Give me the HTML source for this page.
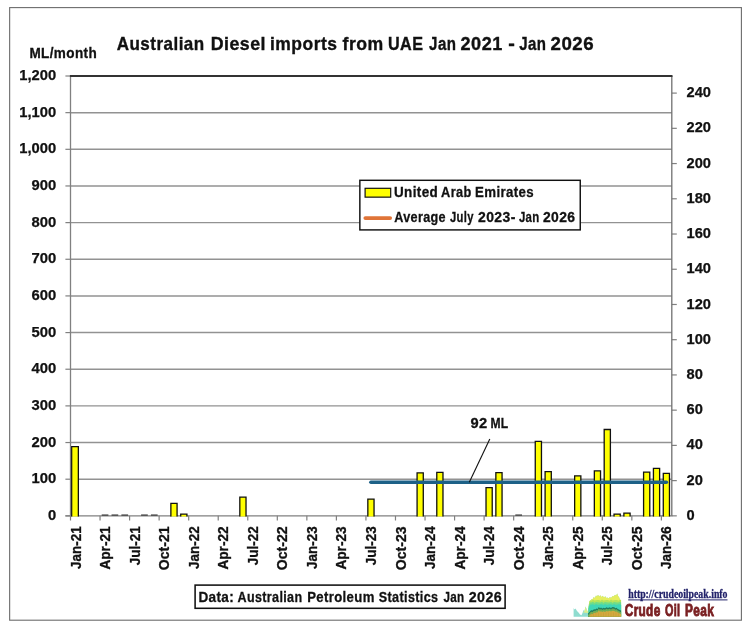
<!DOCTYPE html>
<html><head><meta charset="utf-8"><title>Australian Diesel imports from UAE</title>
<style>html,body{margin:0;padding:0;background:#fff}svg{display:block}text{font-family:"Liberation Sans",Arial,sans-serif;font-weight:bold;fill:#111}</style></head><body>
<svg width="747" height="633" viewBox="0 0 747 633">
<rect width="747" height="633" fill="#fff"/>
<rect x="9.65" y="7.6" width="731.75" height="612.6" fill="#fff" stroke="#6c6c6c" stroke-width="1.1"/>
<line x1="70.5" x2="671.8" y1="479.20" y2="479.20" stroke="#929292" stroke-width="1.45"/>
<line x1="70.5" x2="671.8" y1="442.54" y2="442.54" stroke="#929292" stroke-width="1.45"/>
<line x1="70.5" x2="671.8" y1="405.89" y2="405.89" stroke="#929292" stroke-width="1.45"/>
<line x1="70.5" x2="671.8" y1="369.23" y2="369.23" stroke="#929292" stroke-width="1.45"/>
<line x1="70.5" x2="671.8" y1="332.58" y2="332.58" stroke="#929292" stroke-width="1.45"/>
<line x1="70.5" x2="671.8" y1="295.92" y2="295.92" stroke="#929292" stroke-width="1.45"/>
<line x1="70.5" x2="671.8" y1="259.27" y2="259.27" stroke="#929292" stroke-width="1.45"/>
<line x1="70.5" x2="671.8" y1="222.62" y2="222.62" stroke="#929292" stroke-width="1.45"/>
<line x1="70.5" x2="671.8" y1="185.96" y2="185.96" stroke="#929292" stroke-width="1.45"/>
<line x1="70.5" x2="671.8" y1="149.31" y2="149.31" stroke="#929292" stroke-width="1.45"/>
<line x1="70.5" x2="671.8" y1="112.65" y2="112.65" stroke="#929292" stroke-width="1.45"/>
<line x1="65.4" x2="70.5" y1="515.85" y2="515.85" stroke="#808080" stroke-width="1.2"/>
<text x="56.2" y="519.85" font-size="14" stroke="#111" stroke-width="0.25" text-anchor="end" textLength="8.2" lengthAdjust="spacingAndGlyphs">0</text>
<line x1="65.4" x2="70.5" y1="479.20" y2="479.20" stroke="#808080" stroke-width="1.2"/>
<text x="56.2" y="483.20" font-size="14" stroke="#111" stroke-width="0.25" text-anchor="end" textLength="24.7" lengthAdjust="spacingAndGlyphs">100</text>
<line x1="65.4" x2="70.5" y1="442.54" y2="442.54" stroke="#808080" stroke-width="1.2"/>
<text x="56.2" y="446.54" font-size="14" stroke="#111" stroke-width="0.25" text-anchor="end" textLength="24.7" lengthAdjust="spacingAndGlyphs">200</text>
<line x1="65.4" x2="70.5" y1="405.89" y2="405.89" stroke="#808080" stroke-width="1.2"/>
<text x="56.2" y="409.89" font-size="14" stroke="#111" stroke-width="0.25" text-anchor="end" textLength="24.7" lengthAdjust="spacingAndGlyphs">300</text>
<line x1="65.4" x2="70.5" y1="369.23" y2="369.23" stroke="#808080" stroke-width="1.2"/>
<text x="56.2" y="373.23" font-size="14" stroke="#111" stroke-width="0.25" text-anchor="end" textLength="24.7" lengthAdjust="spacingAndGlyphs">400</text>
<line x1="65.4" x2="70.5" y1="332.58" y2="332.58" stroke="#808080" stroke-width="1.2"/>
<text x="56.2" y="336.58" font-size="14" stroke="#111" stroke-width="0.25" text-anchor="end" textLength="24.7" lengthAdjust="spacingAndGlyphs">500</text>
<line x1="65.4" x2="70.5" y1="295.92" y2="295.92" stroke="#808080" stroke-width="1.2"/>
<text x="56.2" y="299.92" font-size="14" stroke="#111" stroke-width="0.25" text-anchor="end" textLength="24.7" lengthAdjust="spacingAndGlyphs">600</text>
<line x1="65.4" x2="70.5" y1="259.27" y2="259.27" stroke="#808080" stroke-width="1.2"/>
<text x="56.2" y="263.27" font-size="14" stroke="#111" stroke-width="0.25" text-anchor="end" textLength="24.7" lengthAdjust="spacingAndGlyphs">700</text>
<line x1="65.4" x2="70.5" y1="222.62" y2="222.62" stroke="#808080" stroke-width="1.2"/>
<text x="56.2" y="226.62" font-size="14" stroke="#111" stroke-width="0.25" text-anchor="end" textLength="24.7" lengthAdjust="spacingAndGlyphs">800</text>
<line x1="65.4" x2="70.5" y1="185.96" y2="185.96" stroke="#808080" stroke-width="1.2"/>
<text x="56.2" y="189.96" font-size="14" stroke="#111" stroke-width="0.25" text-anchor="end" textLength="24.7" lengthAdjust="spacingAndGlyphs">900</text>
<line x1="65.4" x2="70.5" y1="149.31" y2="149.31" stroke="#808080" stroke-width="1.2"/>
<text x="56.2" y="153.31" font-size="14" stroke="#111" stroke-width="0.25" text-anchor="end" textLength="36.9" lengthAdjust="spacingAndGlyphs">1,000</text>
<line x1="65.4" x2="70.5" y1="112.65" y2="112.65" stroke="#808080" stroke-width="1.2"/>
<text x="56.2" y="116.65" font-size="14" stroke="#111" stroke-width="0.25" text-anchor="end" textLength="36.9" lengthAdjust="spacingAndGlyphs">1,100</text>
<line x1="65.4" x2="70.5" y1="76.00" y2="76.00" stroke="#808080" stroke-width="1.2"/>
<text x="56.2" y="80.00" font-size="14" stroke="#111" stroke-width="0.25" text-anchor="end" textLength="36.9" lengthAdjust="spacingAndGlyphs">1,200</text>
<line x1="671.8" x2="676.8" y1="515.85" y2="515.85" stroke="#808080" stroke-width="1.2"/>
<text x="686.5" y="519.95" font-size="14" stroke="#111" stroke-width="0.25" textLength="8.15" lengthAdjust="spacingAndGlyphs">0</text>
<line x1="671.8" x2="676.8" y1="480.62" y2="480.62" stroke="#808080" stroke-width="1.2"/>
<text x="686.5" y="484.72" font-size="14" stroke="#111" stroke-width="0.25" textLength="16.3" lengthAdjust="spacingAndGlyphs">20</text>
<line x1="671.8" x2="676.8" y1="445.39" y2="445.39" stroke="#808080" stroke-width="1.2"/>
<text x="686.5" y="449.49" font-size="14" stroke="#111" stroke-width="0.25" textLength="16.3" lengthAdjust="spacingAndGlyphs">40</text>
<line x1="671.8" x2="676.8" y1="410.16" y2="410.16" stroke="#808080" stroke-width="1.2"/>
<text x="686.5" y="414.26" font-size="14" stroke="#111" stroke-width="0.25" textLength="16.3" lengthAdjust="spacingAndGlyphs">60</text>
<line x1="671.8" x2="676.8" y1="374.93" y2="374.93" stroke="#808080" stroke-width="1.2"/>
<text x="686.5" y="379.03" font-size="14" stroke="#111" stroke-width="0.25" textLength="16.3" lengthAdjust="spacingAndGlyphs">80</text>
<line x1="671.8" x2="676.8" y1="339.70" y2="339.70" stroke="#808080" stroke-width="1.2"/>
<text x="686.5" y="343.80" font-size="14" stroke="#111" stroke-width="0.25" textLength="24.4" lengthAdjust="spacingAndGlyphs">100</text>
<line x1="671.8" x2="676.8" y1="304.48" y2="304.48" stroke="#808080" stroke-width="1.2"/>
<text x="686.5" y="308.58" font-size="14" stroke="#111" stroke-width="0.25" textLength="24.4" lengthAdjust="spacingAndGlyphs">120</text>
<line x1="671.8" x2="676.8" y1="269.25" y2="269.25" stroke="#808080" stroke-width="1.2"/>
<text x="686.5" y="273.35" font-size="14" stroke="#111" stroke-width="0.25" textLength="24.4" lengthAdjust="spacingAndGlyphs">140</text>
<line x1="671.8" x2="676.8" y1="234.02" y2="234.02" stroke="#808080" stroke-width="1.2"/>
<text x="686.5" y="238.12" font-size="14" stroke="#111" stroke-width="0.25" textLength="24.4" lengthAdjust="spacingAndGlyphs">160</text>
<line x1="671.8" x2="676.8" y1="198.79" y2="198.79" stroke="#808080" stroke-width="1.2"/>
<text x="686.5" y="202.89" font-size="14" stroke="#111" stroke-width="0.25" textLength="24.4" lengthAdjust="spacingAndGlyphs">180</text>
<line x1="671.8" x2="676.8" y1="163.56" y2="163.56" stroke="#808080" stroke-width="1.2"/>
<text x="686.5" y="167.66" font-size="14" stroke="#111" stroke-width="0.25" textLength="24.4" lengthAdjust="spacingAndGlyphs">200</text>
<line x1="671.8" x2="676.8" y1="128.33" y2="128.33" stroke="#808080" stroke-width="1.2"/>
<text x="686.5" y="132.43" font-size="14" stroke="#111" stroke-width="0.25" textLength="24.4" lengthAdjust="spacingAndGlyphs">220</text>
<line x1="671.8" x2="676.8" y1="93.10" y2="93.10" stroke="#808080" stroke-width="1.2"/>
<text x="686.5" y="97.20" font-size="14" stroke="#111" stroke-width="0.25" textLength="24.4" lengthAdjust="spacingAndGlyphs">240</text>
<line x1="65.4" x2="672.4" y1="515.85" y2="515.85" stroke="#808080" stroke-width="1.3"/>
<rect x="71.65" y="446.67" width="6.70" height="69.78" fill="#ffff00"/>
<path d="M71.65,516.45 V446.67 H78.35 V516.45" fill="none" stroke="#111" stroke-width="1.3"/>
<rect x="101.69" y="514.50" width="6.70" height="1.1" fill="#262626"/>
<rect x="111.54" y="514.50" width="6.70" height="1.1" fill="#262626"/>
<rect x="121.39" y="514.50" width="6.70" height="1.1" fill="#262626"/>
<rect x="141.09" y="514.50" width="6.70" height="1.1" fill="#262626"/>
<rect x="150.93" y="514.50" width="6.70" height="1.1" fill="#262626"/>
<rect x="170.88" y="503.45" width="6.20" height="13.00" fill="#ffff00"/>
<path d="M170.88,516.45 V503.45 H177.08 V516.45" fill="none" stroke="#111" stroke-width="1.3"/>
<rect x="180.73" y="514.15" width="6.20" height="2.30" fill="#ffff00"/>
<path d="M180.73,516.45 V514.15 H186.93 V516.45" fill="none" stroke="#111" stroke-width="1.3"/>
<rect x="239.82" y="497.15" width="6.20" height="19.30" fill="#ffff00"/>
<path d="M239.82,516.45 V497.15 H246.02 V516.45" fill="none" stroke="#111" stroke-width="1.3"/>
<rect x="367.84" y="499.05" width="6.20" height="17.40" fill="#ffff00"/>
<path d="M367.84,516.45 V499.05 H374.04 V516.45" fill="none" stroke="#111" stroke-width="1.3"/>
<rect x="417.08" y="472.88" width="6.20" height="43.57" fill="#ffff00"/>
<path d="M417.08,516.45 V472.88 H423.28 V516.45" fill="none" stroke="#111" stroke-width="1.3"/>
<rect x="436.78" y="472.41" width="6.20" height="44.04" fill="#ffff00"/>
<path d="M436.78,516.45 V472.41 H442.98 V516.45" fill="none" stroke="#111" stroke-width="1.3"/>
<rect x="486.02" y="487.54" width="6.20" height="28.91" fill="#ffff00"/>
<path d="M486.02,516.45 V487.54 H492.22 V516.45" fill="none" stroke="#111" stroke-width="1.3"/>
<rect x="495.86" y="472.59" width="6.20" height="43.86" fill="#ffff00"/>
<path d="M495.86,516.45 V472.59 H502.06 V516.45" fill="none" stroke="#111" stroke-width="1.3"/>
<rect x="515.31" y="514.50" width="6.70" height="1.1" fill="#262626"/>
<rect x="535.26" y="441.43" width="6.20" height="75.02" fill="#ffff00"/>
<path d="M535.26,516.45 V441.43 H541.46 V516.45" fill="none" stroke="#111" stroke-width="1.3"/>
<rect x="545.10" y="471.60" width="6.20" height="44.85" fill="#ffff00"/>
<path d="M545.10,516.45 V471.60 H551.30 V516.45" fill="none" stroke="#111" stroke-width="1.3"/>
<rect x="574.65" y="475.89" width="6.20" height="40.56" fill="#ffff00"/>
<path d="M574.65,516.45 V475.89 H580.85 V516.45" fill="none" stroke="#111" stroke-width="1.3"/>
<rect x="594.34" y="470.94" width="6.20" height="45.51" fill="#ffff00"/>
<path d="M594.34,516.45 V470.94 H600.54 V516.45" fill="none" stroke="#111" stroke-width="1.3"/>
<rect x="604.19" y="429.52" width="6.20" height="86.93" fill="#ffff00"/>
<path d="M604.19,516.45 V429.52 H610.39 V516.45" fill="none" stroke="#111" stroke-width="1.3"/>
<rect x="614.04" y="514.08" width="6.20" height="2.37" fill="#ffff00"/>
<path d="M614.04,516.45 V514.08 H620.24 V516.45" fill="none" stroke="#111" stroke-width="1.3"/>
<rect x="623.89" y="513.20" width="6.20" height="3.25" fill="#ffff00"/>
<path d="M623.89,516.45 V513.20 H630.09 V516.45" fill="none" stroke="#111" stroke-width="1.3"/>
<rect x="643.58" y="472.15" width="6.20" height="44.30" fill="#ffff00"/>
<path d="M643.58,516.45 V472.15 H649.78 V516.45" fill="none" stroke="#111" stroke-width="1.3"/>
<rect x="653.43" y="468.37" width="6.20" height="48.08" fill="#ffff00"/>
<path d="M653.43,516.45 V468.37 H659.63 V516.45" fill="none" stroke="#111" stroke-width="1.3"/>
<rect x="663.28" y="473.47" width="6.20" height="42.98" fill="#ffff00"/>
<path d="M663.28,516.45 V473.47 H669.48 V516.45" fill="none" stroke="#111" stroke-width="1.3"/>
<line x1="70.5" x2="70.5" y1="76" y2="515.85" stroke="#808080" stroke-width="1.3"/>
<line x1="671.8" x2="671.8" y1="76" y2="515.85" stroke="#707070" stroke-width="1.3"/>
<line x1="69.9" x2="672.5" y1="76" y2="76" stroke="#333" stroke-width="1.9"/>
<line x1="70.50" x2="70.50" y1="515.85" y2="520.5" stroke="#808080" stroke-width="1.2"/>
<text transform="translate(80.57,526.4) scale(1.06,1) rotate(-90)" font-size="13.75" text-anchor="end" textLength="42.5" lengthAdjust="spacingAndGlyphs" stroke="#111" stroke-width="0.3">Jan-21</text>
<line x1="100.04" x2="100.04" y1="515.85" y2="520.5" stroke="#808080" stroke-width="1.2"/>
<text transform="translate(110.12,526.4) scale(1.06,1) rotate(-90)" font-size="13.75" text-anchor="end" textLength="43.2" lengthAdjust="spacingAndGlyphs" stroke="#111" stroke-width="0.3">Apr-21</text>
<line x1="129.59" x2="129.59" y1="515.85" y2="520.5" stroke="#808080" stroke-width="1.2"/>
<text transform="translate(139.66,526.4) scale(1.06,1) rotate(-90)" font-size="13.75" text-anchor="end" textLength="38.8" lengthAdjust="spacingAndGlyphs" stroke="#111" stroke-width="0.3">Jul-21</text>
<line x1="159.13" x2="159.13" y1="515.85" y2="520.5" stroke="#808080" stroke-width="1.2"/>
<text transform="translate(169.21,526.4) scale(1.06,1) rotate(-90)" font-size="13.75" text-anchor="end" textLength="43.9" lengthAdjust="spacingAndGlyphs" stroke="#111" stroke-width="0.3">Oct-21</text>
<line x1="188.68" x2="188.68" y1="515.85" y2="520.5" stroke="#808080" stroke-width="1.2"/>
<text transform="translate(198.75,526.4) scale(1.06,1) rotate(-90)" font-size="13.75" text-anchor="end" textLength="42.5" lengthAdjust="spacingAndGlyphs" stroke="#111" stroke-width="0.3">Jan-22</text>
<line x1="218.22" x2="218.22" y1="515.85" y2="520.5" stroke="#808080" stroke-width="1.2"/>
<text transform="translate(228.29,526.4) scale(1.06,1) rotate(-90)" font-size="13.75" text-anchor="end" textLength="43.2" lengthAdjust="spacingAndGlyphs" stroke="#111" stroke-width="0.3">Apr-22</text>
<line x1="247.76" x2="247.76" y1="515.85" y2="520.5" stroke="#808080" stroke-width="1.2"/>
<text transform="translate(257.84,526.4) scale(1.06,1) rotate(-90)" font-size="13.75" text-anchor="end" textLength="38.8" lengthAdjust="spacingAndGlyphs" stroke="#111" stroke-width="0.3">Jul-22</text>
<line x1="277.31" x2="277.31" y1="515.85" y2="520.5" stroke="#808080" stroke-width="1.2"/>
<text transform="translate(287.38,526.4) scale(1.06,1) rotate(-90)" font-size="13.75" text-anchor="end" textLength="43.9" lengthAdjust="spacingAndGlyphs" stroke="#111" stroke-width="0.3">Oct-22</text>
<line x1="306.85" x2="306.85" y1="515.85" y2="520.5" stroke="#808080" stroke-width="1.2"/>
<text transform="translate(316.93,526.4) scale(1.06,1) rotate(-90)" font-size="13.75" text-anchor="end" textLength="42.5" lengthAdjust="spacingAndGlyphs" stroke="#111" stroke-width="0.3">Jan-23</text>
<line x1="336.40" x2="336.40" y1="515.85" y2="520.5" stroke="#808080" stroke-width="1.2"/>
<text transform="translate(346.47,526.4) scale(1.06,1) rotate(-90)" font-size="13.75" text-anchor="end" textLength="43.2" lengthAdjust="spacingAndGlyphs" stroke="#111" stroke-width="0.3">Apr-23</text>
<line x1="365.94" x2="365.94" y1="515.85" y2="520.5" stroke="#808080" stroke-width="1.2"/>
<text transform="translate(376.01,526.4) scale(1.06,1) rotate(-90)" font-size="13.75" text-anchor="end" textLength="38.8" lengthAdjust="spacingAndGlyphs" stroke="#111" stroke-width="0.3">Jul-23</text>
<line x1="395.48" x2="395.48" y1="515.85" y2="520.5" stroke="#808080" stroke-width="1.2"/>
<text transform="translate(405.56,526.4) scale(1.06,1) rotate(-90)" font-size="13.75" text-anchor="end" textLength="43.9" lengthAdjust="spacingAndGlyphs" stroke="#111" stroke-width="0.3">Oct-23</text>
<line x1="425.03" x2="425.03" y1="515.85" y2="520.5" stroke="#808080" stroke-width="1.2"/>
<text transform="translate(435.10,526.4) scale(1.06,1) rotate(-90)" font-size="13.75" text-anchor="end" textLength="42.5" lengthAdjust="spacingAndGlyphs" stroke="#111" stroke-width="0.3">Jan-24</text>
<line x1="454.57" x2="454.57" y1="515.85" y2="520.5" stroke="#808080" stroke-width="1.2"/>
<text transform="translate(464.65,526.4) scale(1.06,1) rotate(-90)" font-size="13.75" text-anchor="end" textLength="43.2" lengthAdjust="spacingAndGlyphs" stroke="#111" stroke-width="0.3">Apr-24</text>
<line x1="484.12" x2="484.12" y1="515.85" y2="520.5" stroke="#808080" stroke-width="1.2"/>
<text transform="translate(494.19,526.4) scale(1.06,1) rotate(-90)" font-size="13.75" text-anchor="end" textLength="38.8" lengthAdjust="spacingAndGlyphs" stroke="#111" stroke-width="0.3">Jul-24</text>
<line x1="513.66" x2="513.66" y1="515.85" y2="520.5" stroke="#808080" stroke-width="1.2"/>
<text transform="translate(523.73,526.4) scale(1.06,1) rotate(-90)" font-size="13.75" text-anchor="end" textLength="43.9" lengthAdjust="spacingAndGlyphs" stroke="#111" stroke-width="0.3">Oct-24</text>
<line x1="543.20" x2="543.20" y1="515.85" y2="520.5" stroke="#808080" stroke-width="1.2"/>
<text transform="translate(553.28,526.4) scale(1.06,1) rotate(-90)" font-size="13.75" text-anchor="end" textLength="42.5" lengthAdjust="spacingAndGlyphs" stroke="#111" stroke-width="0.3">Jan-25</text>
<line x1="572.75" x2="572.75" y1="515.85" y2="520.5" stroke="#808080" stroke-width="1.2"/>
<text transform="translate(582.82,526.4) scale(1.06,1) rotate(-90)" font-size="13.75" text-anchor="end" textLength="43.2" lengthAdjust="spacingAndGlyphs" stroke="#111" stroke-width="0.3">Apr-25</text>
<line x1="602.29" x2="602.29" y1="515.85" y2="520.5" stroke="#808080" stroke-width="1.2"/>
<text transform="translate(612.37,526.4) scale(1.06,1) rotate(-90)" font-size="13.75" text-anchor="end" textLength="38.8" lengthAdjust="spacingAndGlyphs" stroke="#111" stroke-width="0.3">Jul-25</text>
<line x1="631.84" x2="631.84" y1="515.85" y2="520.5" stroke="#808080" stroke-width="1.2"/>
<text transform="translate(641.91,526.4) scale(1.06,1) rotate(-90)" font-size="13.75" text-anchor="end" textLength="43.9" lengthAdjust="spacingAndGlyphs" stroke="#111" stroke-width="0.3">Oct-25</text>
<line x1="661.38" x2="661.38" y1="515.85" y2="520.5" stroke="#808080" stroke-width="1.2"/>
<text transform="translate(671.45,526.4) scale(1.06,1) rotate(-90)" font-size="13.75" text-anchor="end" textLength="42.5" lengthAdjust="spacingAndGlyphs" stroke="#111" stroke-width="0.3">Jan-26</text>
<line x1="370.90" x2="666.40" y1="482.3" y2="482.3" stroke="#1d6187" stroke-width="3.6" stroke-linecap="round"/>
<line x1="489.8" y1="439.0" x2="469.3" y2="482.2" stroke="#111" stroke-width="1.1"/>
<g font-size="13.8" stroke="#111" stroke-width="0.3" style="fill:#111"  aria-label="92 ML">
<text transform="translate(470.5,428.4) scale(1.0656,1)" letter-spacing="0.39" style="fill:inherit">92</text>
<text transform="translate(490.44,428.4) scale(0.8772,1)" letter-spacing="0.39" style="fill:inherit">ML</text>
</g>
<g font-size="18.0" stroke="#111" stroke-width="0.35" style="fill:#111"  aria-label="Australian Diesel imports from UAE Jan 2021 - Jan 2026">
<text transform="translate(116.76,50.0) scale(0.9456,1)" letter-spacing="0.5" style="fill:inherit">Australian</text>
<text transform="translate(210.71,50.0) scale(0.9874,1)" letter-spacing="0.5" style="fill:inherit">Diesel</text>
<text transform="translate(270.01,50.0) scale(0.9707,1)" letter-spacing="0.5" style="fill:inherit">imports</text>
<text transform="translate(342.58,50.0) scale(0.9808,1)" letter-spacing="0.5" style="fill:inherit">from</text>
<text transform="translate(387.91,50.0) scale(0.8983,1)" letter-spacing="0.5" style="fill:inherit">UAE</text>
<text transform="translate(429.1,50.0) scale(0.8387,1)" letter-spacing="0.5" style="fill:inherit">Jan</text>
<text transform="translate(460.5,50.0) scale(1.0061,1)" letter-spacing="0.5" style="fill:inherit">2021</text>
<text transform="translate(508.15,50.0) scale(1.1,1)" letter-spacing="0.0" style="fill:inherit">-</text>
<text transform="translate(519.2,50.0) scale(0.8355,1)" letter-spacing="0.5" style="fill:inherit">Jan</text>
<text transform="translate(550.48,50.0) scale(1.0388,1)" letter-spacing="0.5" style="fill:inherit">2026</text>
</g>
<g font-size="14.6" stroke="#111" stroke-width="0.3" style="fill:#111"  aria-label="ML/month">
<text transform="translate(29.39,57.7) scale(0.9282,1)" letter-spacing="0.41" style="fill:inherit">ML/month</text>
</g>
<rect x="359.85" y="180.3" width="220.4" height="49.6" fill="#fff" stroke="#111" stroke-width="1.45"/>
<rect x="365.1" y="188.3" width="25.6" height="8.85" fill="#ffff00" stroke="#111" stroke-width="1.2"/>
<g font-size="14.7" stroke="#111" stroke-width="0.3" style="fill:#111"  aria-label="United Arab Emirates">
<text transform="translate(394.01,196.8) scale(0.9161,1)" letter-spacing="0.41" style="fill:inherit">United</text>
<text transform="translate(441.09,196.8) scale(0.8679,1)" letter-spacing="0.41" style="fill:inherit">Arab</text>
<text transform="translate(475.11,196.8) scale(0.9022,1)" letter-spacing="0.41" style="fill:inherit">Emirates</text>
</g>
<line x1="365.4" x2="390.1" y1="218.1" y2="218.1" stroke="#e07438" stroke-width="3.9" stroke-linecap="round"/>
<g font-size="14.7" stroke="#111" stroke-width="0.3" style="fill:#111"  aria-label="Average July 2023- Jan 2026">
<text transform="translate(394.19,221.9) scale(0.8594,1)" letter-spacing="0.41" style="fill:inherit">Average</text>
<text transform="translate(450.0,221.9) scale(0.7647,1)" letter-spacing="0.41" style="fill:inherit">July</text>
<text transform="translate(478.04,221.9) scale(0.9508,1)" letter-spacing="0.41" style="fill:inherit">2023-</text>
<text transform="translate(518.9,221.9) scale(0.778,1)" letter-spacing="0.41" style="fill:inherit">Jan</text>
<text transform="translate(542.95,221.9) scale(0.9455,1)" letter-spacing="0.41" style="fill:inherit">2026</text>
</g>
<rect x="195.1" y="585.1" width="310.0" height="23.2" fill="#fff" stroke="#111" stroke-width="1.55"/>
<g font-size="15.0" stroke="#111" stroke-width="0.3" style="fill:#111"  aria-label="Data: Australian Petroleum Statistics Jan 2026">
<text transform="translate(198.41,601.7) scale(0.9041,1)" letter-spacing="0.42" style="fill:inherit">Data:</text>
<text transform="translate(237.49,601.7) scale(0.8378,1)" letter-spacing="0.42" style="fill:inherit">Australian</text>
<text transform="translate(307.13,601.7) scale(0.8762,1)" letter-spacing="0.42" style="fill:inherit">Petroleum</text>
<text transform="translate(378.79,601.7) scale(0.8412,1)" letter-spacing="0.42" style="fill:inherit">Statistics</text>
<text transform="translate(443.4,601.7) scale(0.7779,1)" letter-spacing="0.42" style="fill:inherit">Jan</text>
<text transform="translate(468.74,601.7) scale(0.9503,1)" letter-spacing="0.42" style="fill:inherit">2026</text>
</g>
<g>
<path d="M573.6,608.0 L574.5,609.6 L575.5,608.6 L577.0,611.0 L578.5,612.6 L580.0,614.6 L581.5,615.2 L582.5,613.0 L583.5,610.0 L584.5,611.0 L585.6,606.5 L586.5,609.0 L587.3,612.0 L588.3,609.0 L589.4,601.0 L590.5,601.6 L591.5,599.0 L592.5,599.6 L593.7,597.0 L594.8,598.0 L596.0,595.5 L597.0,596.6 L598.0,594.8 L599.2,596.4 L600.3,595.3 L601.5,597.0 L602.7,595.8 L604.0,597.6 L605.3,596.3 L606.5,598.0 L607.5,597.5 L608.5,598.6 L610.0,597.0 L611.0,598.0 L612.5,596.0 L613.5,596.6 L615.0,594.8 L616.0,595.6 L617.3,593.6 L618.0,596.0 L619.0,597.0 L619.8,599.0 L620.7,602.0 L621.1,605.0 L621.1,616.8 L573.6,616.8 Z" fill="#8fdccf" />
<path d="M588.3,612.0 L589.4,601.0 L590.5,601.6 L591.5,599.0 L592.5,599.6 L593.7,597.0 L594.8,598.0 L596.0,595.5 L597.0,596.6 L598.0,594.8 L599.2,596.4 L600.3,595.3 L601.5,597.0 L602.7,595.8 L604.0,597.6 L605.3,596.3 L606.5,598.0 L607.5,597.5 L608.5,598.6 L610.0,597.0 L611.0,598.0 L612.5,596.0 L613.5,596.6 L615.0,594.8 L616.0,595.6 L617.3,593.6 L618.0,596.0 L619.0,597.0 L619.8,599.0 L620.7,602.0 L621.1,605.0 L621.1,616.8 L588.3,616.8 Z" fill="#e6ee5e" />
<path d="M583,612.5 L584.5,611 L585.6,606.5 L586.5,609 L587.3,612 L588.3,609 L588.3,613 Z" fill="#dcee8c"/>
<path d="M588.8,604.5 L590.0,600.1 L591.5,600.8 L593.0,599.5 L594.5,600.6 L596.0,600.3 L597.5,600.0 L599.0,600.1 L600.5,600.8 L602.0,599.5 L603.5,600.6 L605.0,600.3 L606.5,600.0 L608.0,600.1 L609.5,600.8 L611.0,599.5 L612.5,600.6 L614.0,600.3 L615.5,600.0 L617.0,600.1 L618.5,600.7 L620.0,599.5 L621.1,600.1 L621.1,616.8 L588.8,616.8 Z" fill="#b4e45c" />
<path d="M588.6,606.5 L590.0,602.6 L591.5,602.6 L593.0,601.8 L594.5,603.0 L596.0,602.1 L597.5,602.3 L599.0,602.6 L600.5,602.6 L602.0,601.8 L603.5,603.0 L605.0,602.1 L606.5,602.3 L608.0,602.6 L609.5,602.6 L611.0,601.8 L612.5,603.0 L614.0,602.1 L615.5,602.3 L617.0,602.6 L618.5,602.6 L620.0,601.8 L621.1,602.4 L621.1,616.8 L588.6,616.8 Z" fill="#6fdc8a" />
<path d="M588.4,608.5 L590.0,604.7 L591.5,604.4 L593.0,604.2 L594.5,605.1 L596.0,603.9 L597.5,604.7 L599.0,604.7 L600.5,604.3 L602.0,604.3 L603.5,605.1 L605.0,603.9 L606.5,604.7 L608.0,604.7 L609.5,604.3 L611.0,604.3 L612.5,605.1 L614.0,603.9 L615.5,604.7 L617.0,604.7 L618.5,604.3 L620.0,604.3 L621.1,604.9 L621.1,616.8 L588.4,616.8 Z" fill="#3ed6b6" />
<path d="M588.0,613.6 L589.5,612.0 L591.1,610.3 L592.5,610.6 L594.0,609.2 L595.2,609.6 L596.3,608.6 L597.5,608.9 L598.8,606.9 L600.0,608.2 L601.0,607.6 L602.3,608.4 L603.5,607.7 L605.0,608.3 L606.6,607.3 L608.0,608.0 L609.5,607.2 L611.0,607.9 L612.5,607.1 L614.3,607.3 L615.5,608.2 L616.6,607.8 L617.7,609.0 L619.0,609.4 L620.0,610.2 L621.1,610.4 L621.1,616.8 L588.0,616.8 Z" fill="#1f7d5e" />
<path d="M588.0,615.1 L589.5,613.5 L591.1,611.8 L592.5,612.1 L594.0,610.7 L595.2,611.1 L596.3,610.1 L597.5,610.4 L598.8,608.4 L600.0,609.7 L601.0,609.1 L602.3,609.9 L603.5,609.2 L605.0,609.8 L606.6,608.8 L608.0,609.5 L609.5,608.7 L611.0,609.4 L612.5,608.6 L614.3,608.8 L615.5,609.7 L616.6,609.3 L617.7,610.5 L619.0,610.9 L620.0,611.7 L621.1,611.9 L621.1,616.8 L588.0,616.8 Z" fill="#6fae54" />
<path d="M589.5,615.6 L591.1,613.9 L592.5,614.2 L594.0,612.8 L595.2,613.2 L596.3,612.2 L597.5,612.5 L598.8,610.5 L600.0,611.8 L601.0,611.2 L602.3,612.0 L603.5,611.3 L605.0,611.9 L606.6,610.9 L608.0,611.6 L609.5,610.8 L611.0,611.5 L612.5,610.7 L614.3,610.9 L615.5,611.8 L616.6,611.4 L617.7,612.6 L619.0,613.0 L620.0,613.8 L621.1,614.0 L621.1,616.8 L589.5,616.8 Z" fill="#d2aa3e" />
<line x1="591" x2="591" y1="612.5" y2="616.8" stroke="#c49432" stroke-width="0.7" opacity="0.6"/>
<line x1="593.5" x2="593.5" y1="612.5" y2="616.8" stroke="#c49432" stroke-width="0.7" opacity="0.6"/>
<line x1="596" x2="596" y1="612.5" y2="616.8" stroke="#c49432" stroke-width="0.7" opacity="0.6"/>
<line x1="598.5" x2="598.5" y1="612.5" y2="616.8" stroke="#c49432" stroke-width="0.7" opacity="0.6"/>
<line x1="601" x2="601" y1="612.5" y2="616.8" stroke="#c49432" stroke-width="0.7" opacity="0.6"/>
<line x1="603.5" x2="603.5" y1="612.5" y2="616.8" stroke="#c49432" stroke-width="0.7" opacity="0.6"/>
<line x1="606" x2="606" y1="612.5" y2="616.8" stroke="#c49432" stroke-width="0.7" opacity="0.6"/>
<line x1="608.5" x2="608.5" y1="612.5" y2="616.8" stroke="#c49432" stroke-width="0.7" opacity="0.6"/>
<line x1="611" x2="611" y1="612.5" y2="616.8" stroke="#c49432" stroke-width="0.7" opacity="0.6"/>
<line x1="613.5" x2="613.5" y1="612.5" y2="616.8" stroke="#c49432" stroke-width="0.7" opacity="0.6"/>
<line x1="616" x2="616" y1="612.5" y2="616.8" stroke="#c49432" stroke-width="0.7" opacity="0.6"/>
<line x1="618.5" x2="618.5" y1="612.5" y2="616.8" stroke="#c49432" stroke-width="0.7" opacity="0.6"/>
</g>
<text x="628.2" y="597.8" font-size="12" textLength="99.3" lengthAdjust="spacingAndGlyphs" style="font-family:'Liberation Serif',serif;fill:#22226a" stroke="#22226a" stroke-width="0.3">http://crudeoilpeak.info</text>
<line x1="628.2" x2="727.5" y1="599.9" y2="599.9" stroke="#22226a" stroke-width="1.0"/>
<g font-size="17.0" stroke="#7a2022" stroke-width="0.9" style="fill:#7a2022"  aria-label="Crude Oil Peak">
<text transform="translate(624.78,616.3) scale(0.6957,1)" letter-spacing="0.48" style="fill:inherit">Crude</text>
<text transform="translate(665.04,616.3) scale(0.6376,1)" letter-spacing="0.48" style="fill:inherit">Oil</text>
<text transform="translate(685.08,616.3) scale(0.6992,1)" letter-spacing="0.48" style="fill:inherit">Peak</text>
</g>
</svg></body></html>
